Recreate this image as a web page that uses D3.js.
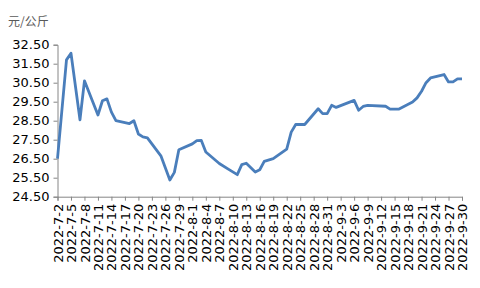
<!DOCTYPE html>
<html>
<head>
<meta charset="utf-8">
<script src="https://cdn.jsdelivr.net/npm/d3@7"></script>
<style>
  body { margin: 0; background: #fff; }
  text { font-family: "DejaVu Sans", sans-serif; }
</style>
</head>
<body>
<div class="chart"></div>
<script>
// price series (元/公斤), vertices
const dates = [
  '2022-07-02', '2022-07-04', '2022-07-05', '2022-07-07', '2022-07-08',
  '2022-07-11', '2022-07-12', '2022-07-13', '2022-07-14', '2022-07-15',
  '2022-07-18', '2022-07-19', '2022-07-20', '2022-07-21', '2022-07-22',
  '2022-07-25', '2022-07-27', '2022-07-28', '2022-07-29', '2022-08-01',
  '2022-08-02', '2022-08-03', '2022-08-04', '2022-08-07', '2022-08-09',
  '2022-08-11', '2022-08-12', '2022-08-13', '2022-08-15', '2022-08-16',
  '2022-08-17', '2022-08-19', '2022-08-22', '2022-08-23', '2022-08-24',
  '2022-08-26', '2022-08-29', '2022-08-30', '2022-08-31', '2022-09-01',
  '2022-09-02', '2022-09-06', '2022-09-07', '2022-09-08', '2022-09-09',
  '2022-09-13', '2022-09-14', '2022-09-16', '2022-09-19', '2022-09-20',
  '2022-09-21', '2022-09-22', '2022-09-23', '2022-09-26', '2022-09-27',
  '2022-09-28', '2022-09-29', '2022-09-30'
];
const prices = [
  26.5, 31.7, 32.05, 28.55, 30.6,
  28.8, 29.55, 29.65, 28.95, 28.5,
  28.35, 28.5, 27.8, 27.65, 27.6,
  26.65, 25.38, 25.78, 26.97, 27.28,
  27.45, 27.46, 26.85, 26.25, 25.95,
  25.66, 26.19, 26.26, 25.8, 25.92,
  26.36, 26.5, 27.0, 27.9, 28.3,
  28.3, 29.13, 28.87, 28.87, 29.31,
  29.2, 29.57, 29.05, 29.25, 29.31,
  29.26, 29.11, 29.11, 29.48, 29.7,
  30.05, 30.5, 30.75, 30.93, 30.54,
  30.54, 30.7, 30.7
];
const yTicks = [24.5, 25.5, 26.5, 27.5, 28.5, 29.5, 30.5, 31.5, 32.5];
const unitLabel = '元/公斤';

const width = 480;
const height = 288;
const margin = { top: 44.7, right: 18, bottom: 91.3, left: 57.5 };

const parse = d3.timeParse('%Y-%m-%d');
const data = dates.map((d, i) => ({ date: parse(d), value: prices[i] }));

const svg = d3.select('.chart')
  .append('svg')
  .attr('width', width)
  .attr('height', height);

const x = d3.scaleTime()
  .domain([parse('2022-07-02'), parse('2022-09-30')])
  .range([margin.left, 462]);

const y = d3.scaleLinear()
  .domain([24.5, 32.5])
  .range([height - margin.bottom, margin.top]);

// x ticks every 3 days
const xTicks = d3.timeDay.range(parse('2022-07-02'), d3.timeDay.offset(parse('2022-09-30'), 1), 3);
const fmt = d => `${d.getFullYear()}-${d.getMonth() + 1}-${d.getDate()}`;

const axisColor = '#868686';

const yAxis = svg.append('g')
  .attr('transform', `translate(${margin.left},0)`)
  .call(d3.axisLeft(y).tickValues(yTicks).tickSize(4).tickPadding(4)
    .tickFormat(d3.format('.2f')));
yAxis.selectAll('text')
  .attr('font-size', 13)
  .attr('fill', '#000');

const xAxis = svg.append('g')
  .attr('transform', `translate(0,${height - margin.bottom})`)
  .call(d3.axisBottom(x).tickValues(xTicks).tickSize(4).tickFormat(fmt));
xAxis.selectAll('text')
  .attr('font-size', 13)
  .attr('fill', '#000')
  .attr('text-anchor', 'end')
  .attr('transform', 'rotate(-90)')
  .attr('x', -7)
  .attr('y', 0)
  .attr('dy', '0.35em');

svg.selectAll('.domain, .tick line')
  .attr('stroke', axisColor);

svg.append('text')
  .attr('x', 8)
  .attr('y', 26)
  .attr('font-size', 12)
  .attr('fill', '#595959')
  .style('font-family', '"Noto Sans CJK SC", sans-serif')
  .text(unitLabel);

const line = d3.line()
  .x(d => x(d.date))
  .y(d => y(d.value));

svg.append('path')
  .datum(data)
  .attr('fill', 'none')
  .attr('stroke', '#4a7ebb')
  .attr('stroke-width', 2.8)
  .attr('stroke-linejoin', 'round')
  .attr('d', line);
</script>
</body>
</html>
